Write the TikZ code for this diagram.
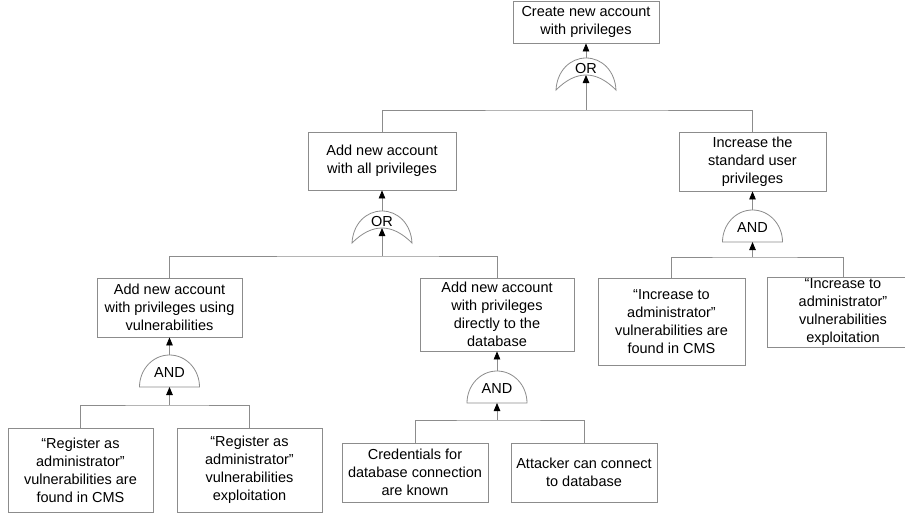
\documentclass[tikz,border=0pt]{standalone}
\usepackage{fontspec}
\setmainfont{Liberation Sans}
\usetikzlibrary{arrows.meta,calc}
\definecolor{linegray}{HTML}{8C8C8C}
\tikzset{
  box/.style={draw=linegray, line width=0.8pt, fill=white, align=center, inner sep=0pt, text=black},
  conn/.style={draw=linegray, line width=0.8pt},
  arr/.style={draw=linegray, line width=0.8pt, -{Triangle[length=8pt,width=6.5pt,black]}},
  gateline/.style={draw=linegray, line width=0.8pt, fill=white},
  gatetext/.style={inner sep=0pt, text=black},
  andgate/.pic={
    \draw[gateline] (-30,0) .. controls (-30,-17.7) and (-16.6,-32) .. (0,-32)
      .. controls (16.6,-32) and (30,-17.7) .. (30,0) -- cycle;
    \coordinate (-in) at (0,0);
    \coordinate (-top) at (0,-32);
    \node[gatetext] (-label) at (0,-14) {AND};
  },
  orgate/.pic={
    \draw[gateline] (-30,0) .. controls (-29,-19) and (-16,-32) .. (0,-32)
      .. controls (16,-32) and (29,-19) .. (30,0)
      .. controls (10,-20) and (-10,-20) .. (-30,0) -- cycle;
    \coordinate (-in) at (0,-15);
    \coordinate (-top) at (0,-32);
    \node[gatetext] (-label) at (0,-21) {OR};
  }
}
\begin{document}
\begin{tikzpicture}[x=1pt, y=-1pt, font=\fontsize{14.5}{18}\selectfont]
\useasboundingbox (0,0) rectangle (905,514);

% boxes
\node[box, minimum width=146pt, minimum height=42pt] (b1) at (586,22) {Create new account\\with privileges};
\node[box, minimum width=148pt, minimum height=58pt] (b2) at (382,161) {Add new account\\with all privileges};
\node[box, minimum width=147pt, minimum height=59pt] (b3) at (752.5,161.5) {Increase the\\standard user\\privileges};
\node[box, minimum width=145pt, minimum height=59pt] (b4) at (169.5,307.5) {Add new account\\with privileges using\\vulnerabilities};
\node[box, minimum width=154pt, minimum height=73pt] (b5) at (497,314.5) {Add new account\\with privileges\\directly to the\\database};
\node[box, minimum width=147pt, minimum height=87pt] (b6) at (671.5,321.5) {“Increase to\\administrator”\\vulnerabilities are\\found in CMS};
\node[box, minimum width=152pt, minimum height=70pt] (b7) at (843,312) {“Increase to\\administrator”\\vulnerabilities\\exploitation};
\node[box, minimum width=145pt, minimum height=84pt] (b8) at (80.5,470) {“Register as\\administrator”\\vulnerabilities are\\found in CMS};
\node[box, minimum width=145pt, minimum height=84pt] (b9) at (249.5,470) {“Register as\\administrator”\\vulnerabilities\\exploitation};
\node[box, minimum width=146pt, minimum height=59pt] (b10) at (415,472.5) {Credentials for\\database connection\\are known};
\node[box, minimum width=146pt, minimum height=59pt] (b11) at (584,472.5) {Attacker can connect\\to database};

% gates
\pic (g1) at (586,90) {orgate};
\pic (g2) at (382,243) {orgate};
\pic (g3) at (752.5,242) {andgate};
\pic (g4) at (169.5,387) {andgate};
\pic (g5) at (497,403) {andgate};

% bar levels
\coordinate (h1) at (586,110);
\coordinate (h2) at (382,256);
\coordinate (h3) at (752.5,257);
\coordinate (h4) at (169.5,405);
\coordinate (h5) at (497,420);

% bars
\draw[conn] (b2.north) |- (h1) -| (b3.north);
\draw[conn] (b4.north) |- (h2) -| (b5.north);
\draw[conn] (b6.north) |- (h3) -| (b7.north);
\draw[conn] (b8.north) |- (h4) -| (b9.north);
\draw[conn] (b10.north) |- (h5) -| (b11.north);

% inputs into gates
\draw[arr] (h1) -- (g1-in);
\draw[arr] (h2) -- (g2-in);
\draw[arr] (h3) -- (g3-in);
\draw[arr] (h4) -- (g4-in);
\draw[arr] (h5) -- (g5-in);

% gate outputs
\draw[arr] (g1-top) -- (g1-top |- b1.south);
\draw[arr] (g2-top) -- (g2-top |- b2.south);
\draw[arr] (g3-top) -- (g3-top |- b3.south);
\draw[arr] (g4-top) -- (g4-top |- b4.south);
\draw[arr] (g5-top) -- (g5-top |- b5.south);
\end{tikzpicture}
\end{document}
